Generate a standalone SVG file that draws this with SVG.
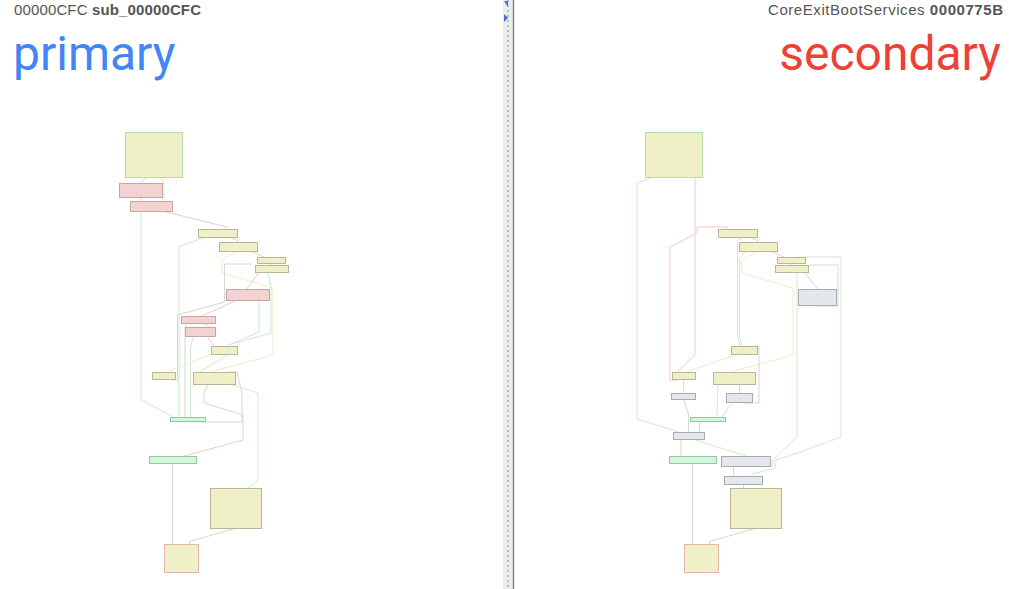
<svg xmlns="http://www.w3.org/2000/svg" width="1013" height="589" viewBox="0 0 1013 589">
<style>
.y{fill:#f0f0c8;stroke:#b8b898;stroke-width:1}
.yt{fill:#f0f0c8;stroke:#b8dca8;stroke-width:1}
.yb{fill:#f0f0c8;stroke:#e0b4a8;stroke-width:1}
.p{fill:#f4d2d2;stroke:#c0a8a8;stroke-width:1}
.g{fill:#d2f8dc;stroke:#98c4a4;stroke-width:1}
.s{fill:#e4e8ec;stroke:#a8acb0;stroke-width:1}
.e{fill:none;stroke-width:1}
.eg{stroke:#cfeacf}
.ep{stroke:#f2c8cc}
.ea{stroke:#d6d6d6}
.ey{stroke:#e8efc4}
.hd{font-family:"Liberation Sans",Arial,sans-serif;font-size:15px;fill:#555555}
.big{font-family:Roboto,"Liberation Sans",sans-serif;font-size:48px}
</style>
<rect width="1013" height="589" fill="#ffffff"/>
<g id="divider">
<rect x="503" y="0" width="10" height="589" fill="#ececec"/>
<line x1="508" y1="0" x2="508" y2="589" stroke="#7d8b9c" stroke-width="1" stroke-dasharray="2,3"/>
<line x1="513.5" y1="0" x2="513.5" y2="589" stroke="#7a8aa2" stroke-width="1.5"/>
<polygon points="504,1 508,1 508,7" fill="#4a6fd0"/>
<polygon points="504,14 508,18 504,22" fill="#4a6fd0"/>
</g>
<g id="headers">
<text class="hd" x="14" y="15" textLength="187" lengthAdjust="spacing">00000CFC <tspan font-weight="bold">sub_00000CFC</tspan></text>
<text class="hd" x="768" y="15" textLength="235" lengthAdjust="spacing">CoreExitBootServices <tspan font-weight="bold">0000775B</tspan></text>
<text class="big" x="13" y="70" fill="#4285f4">primary</text>
<text class="big" x="1001" y="70" fill="#ea4335" text-anchor="end">secondary</text>
</g>
<g id="connectors">
<polyline class="e ep" points="146,177 141,183"/>
<polyline class="e eg" points="160,177 164,183 164,196 162,201"/>
<polyline class="e ea" points="141,197 141,201"/>
<polyline class="e eg" points="141,211 141,400 172,416 172,417"/>
<polyline class="e ep" points="162,211 227,227 227,229"/>
<polyline class="e eg" points="205,237 179,247 179,417"/>
<polyline class="e ep" points="230,237 238,241 238,243"/>
<polyline class="e ep" points="250,251 264,257"/>
<polyline class="e ey" points="238,251 222,260 222,273 273,288 273,355 214,371 214,372"/>
<polyline class="e ea" points="271,263 271,265"/>
<polyline class="e ea" points="251,265 251,264 224.5,264 224.5,302 177.5,315 177.5,380 172,380"/>
<polyline class="e ep" points="259,272 247,289"/>
<polyline class="e eg" points="268,272 271,287 271,333 228,345 228,346"/>
<polyline class="e ep" points="237,300 200,317"/>
<polyline class="e eg" points="259,300 259,332 229,345"/>
<polyline class="e ep" points="203,323 209,327"/>
<polyline class="e ea" points="186,323 185,327 185,417"/>
<polyline class="e ep" points="207,336 214,346"/>
<polyline class="e eg" points="193,336 190.5,349 190.5,417"/>
<polyline class="e eg" points="229,354 201,371 201,372"/>
<polyline class="e ey" points="212,354 169,371 169,372"/>
<polyline class="e ep" points="208,384 204,393 204,403 243,415 243,440 184,456 184,457"/>
<polyline class="e ea" points="228,372 237,372 242,393 242,422 197,422 197,421"/>
<polyline class="e eg" points="230,384 258,393 258,480 248,488"/>
<polyline class="e ea" points="172.5,463 172.5,544"/>
<polyline class="e ea" points="236.5,528 189.5,541.5 189.5,544"/>

<polyline class="e eg" points="653,177 637,183 637,419 679,432"/>
<polyline class="e ep" points="695,177 695,355 678,371 678,372"/>
<polyline class="e ep" points="727,229 727,227 697,227 697,233 670,247 670,380 677,380"/>
<polyline class="e eg" points="745,237 737.5,240 737.5,337 740,346"/>
<polyline class="e ep" points="750,237 758,241 758,243"/>
<polyline class="e eg" points="746,251 739.5,259 739.5,337 742,346"/>
<polyline class="e ey" points="758,251 741,261 742,273 793,288 793,355 734,371 734,372"/>
<polyline class="e ey" points="738,354 689,371 689,372"/>
<polyline class="e ep" points="770,251 784,257"/>
<polyline class="e ea" points="791,263 791,265"/>
<polyline class="e eg" points="798,257 841,257 841,437 800,452 776,460 775,468 752,474 752,476"/>
<polyline class="e eg" points="797,272 797,437 773,460 772,466.5 758,466.5"/>
<polyline class="e ea" points="809,265 838,265 838,306 817,306"/>
<polyline class="e ep" points="804,272 818,289"/>
<polyline class="e ep" points="754,346 759,346 759,403 745,403"/>
<polyline class="e eg" points="683.5,379 683.5,393.5"/>
<polyline class="e ea" points="683.5,399.5 688.5,414 688.5,432"/>
<polyline class="e eg" points="718,384 717,417"/>
<polyline class="e ep" points="739.5,384 739.5,393"/>
<polyline class="e eg" points="733,402 722,417"/>
<polyline class="e ea" points="699.5,421 699.5,432"/>
<polyline class="e ep" points="681,439 681,456.5"/>
<polyline class="e eg" points="696,440 746,456"/>
<polyline class="e ea" points="692.5,463 692.5,544"/>
<polyline class="e ea" points="733.5,466 733.5,476"/>
<polyline class="e ea" points="743.5,484 743.5,488"/>
<polyline class="e ea" points="756.5,528 709.5,541.5 709.5,544"/>
</g>
<g id="L1"><rect class="yt" x="125.5" y="132.5" width="57" height="45"/></g>
<g id="L2"><rect class="p" x="119.5" y="183.5" width="43" height="14"/></g>
<g id="L3"><rect class="p" x="130.5" y="201.5" width="42" height="10"/></g>
<g id="L4"><rect class="y" x="198.5" y="229.5" width="39" height="8"/></g>
<g id="L5"><rect class="y" x="219.5" y="242.5" width="38" height="9"/></g>
<g id="L6"><rect class="y" x="257.5" y="257.5" width="28" height="6"/></g>
<g id="L7"><rect class="y" x="255.5" y="265.5" width="33" height="7"/></g>
<g id="L8"><rect class="p" x="226.5" y="289.5" width="43" height="11"/></g>
<g id="L9"><rect class="p" x="181.5" y="316.5" width="34" height="7"/></g>
<g id="L10"><rect class="p" x="185.5" y="327.5" width="30" height="9"/></g>
<g id="L11"><rect class="y" x="211.5" y="346.5" width="26" height="8"/></g>
<g id="L12"><rect class="y" x="152.5" y="372.5" width="23" height="7"/></g>
<g id="L13"><rect class="y" x="193.5" y="372.5" width="42" height="12"/></g>
<g id="L14"><rect class="g" x="170.5" y="417.5" width="35" height="4"/></g>
<g id="L15"><rect class="g" x="149.5" y="456.5" width="47" height="7"/></g>
<g id="L16"><rect class="y" x="210.5" y="488.5" width="51" height="40"/></g>
<g id="L17"><rect class="yb" x="164.5" y="544.5" width="34" height="28"/></g>

<g id="R1"><rect class="yt" x="645.5" y="132.5" width="57" height="45"/></g>
<g id="R2"><rect class="y" x="718.5" y="229.5" width="39" height="8"/></g>
<g id="R3"><rect class="y" x="739.5" y="242.5" width="38" height="9"/></g>
<g id="R4"><rect class="y" x="777.5" y="257.5" width="28" height="6"/></g>
<g id="R5"><rect class="y" x="775.5" y="265.5" width="33" height="7"/></g>
<g id="R6"><rect class="s" x="798.5" y="289.5" width="38" height="16"/></g>
<g id="R7"><rect class="y" x="731.5" y="346.5" width="26" height="8"/></g>
<g id="R8"><rect class="y" x="672.5" y="372.5" width="23" height="7"/></g>
<g id="R9"><rect class="y" x="713.5" y="372.5" width="42" height="12"/></g>
<g id="R10"><rect class="s" x="671.5" y="393.5" width="24" height="6"/></g>
<g id="R11"><rect class="s" x="726.5" y="393.5" width="26" height="9"/></g>
<g id="R12"><rect class="g" x="690.5" y="417.5" width="35" height="4"/></g>
<g id="R13"><rect class="s" x="673.5" y="432.5" width="31" height="7"/></g>
<g id="R14"><rect class="g" x="669.5" y="456.5" width="47" height="7"/></g>
<g id="R15"><rect class="s" x="721.5" y="456.5" width="49" height="10"/></g>
<g id="R16"><rect class="s" x="724.5" y="476.5" width="38" height="8"/></g>
<g id="R17"><rect class="y" x="730.5" y="488.5" width="51" height="40"/></g>
<g id="R18"><rect class="yb" x="684.5" y="544.5" width="34" height="28"/></g>
</svg>
